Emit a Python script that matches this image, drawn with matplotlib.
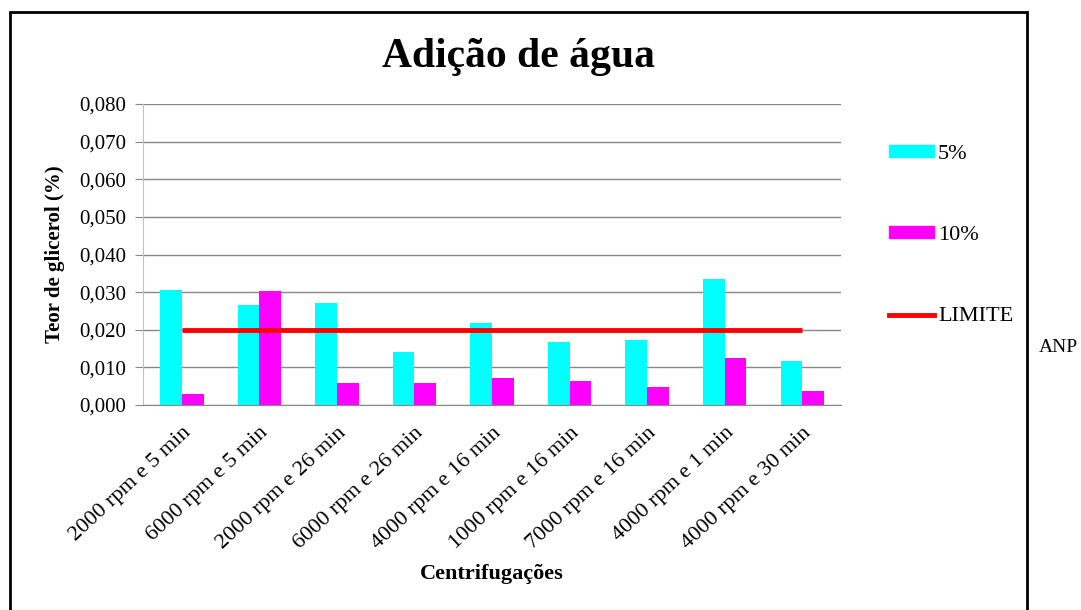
import numpy as np
import matplotlib.pyplot as plt
from matplotlib.patches import Rectangle, Patch
from matplotlib.lines import Line2D
from matplotlib.ticker import FuncFormatter

# Dados
categorias = ['2000 rpm e 5 min', '6000 rpm e 5 min', '2000 rpm e 26 min',
              '6000 rpm e 26 min', '4000 rpm e 16 min', '1000 rpm e 16 min',
              '7000 rpm e 16 min', '4000 rpm e 1 min', '4000 rpm e 30 min']
agua_5 = [0.0307, 0.0267, 0.0270, 0.0142, 0.0219, 0.0168, 0.0174, 0.0336, 0.0118]
agua_10 = [0.0030, 0.0304, 0.0059, 0.0059, 0.0073, 0.0064, 0.0049, 0.0126, 0.0037]
limite = [0.020] * len(categorias)

plt.rcParams['font.family'] = ['Liberation Serif', 'DejaVu Serif']

fig = plt.figure(figsize=(10.81, 6.10), dpi=100)
ax = fig.add_axes([0.1323, 0.336, 0.6457, 0.4935])

x = np.arange(len(categorias))
w = 0.28
ax.bar(x - w / 2, agua_5, w, color='#00FFFF', zorder=2)
ax.bar(x + w / 2, agua_10, w, color='#FF00FF', zorder=2)
ax.plot(x, limite, color='#FF0000', lw=3.5, zorder=3, solid_capstyle='butt')

ax.set_xlim(-0.5, len(categorias) - 0.5)
ax.set_ylim(0, 0.080)
ax.set_yticks(np.arange(0, 0.0801, 0.010))
ax.yaxis.set_major_formatter(FuncFormatter(lambda v, p: f'{v:.3f}'.replace('.', ',')))
ax.grid(axis='y', color='#888888', lw=1, zorder=0)
ax.set_axisbelow(True)

for s in ['top', 'right']:
    ax.spines[s].set_visible(False)
ax.spines['left'].set_color('#C0C0C0')
ax.spines['bottom'].set_color('#888888')
ax.tick_params(axis='y', length=6, color='#888888', labelsize=15, pad=6)
ax.tick_params(axis='x', length=0, labelsize=16, pad=13)
ax.set_xticks(x)
ax.set_xticklabels(categorias, rotation=43, ha='right', rotation_mode='anchor')

ax.set_ylabel('Teor de glicerol (%)', fontsize=15, fontweight='bold', labelpad=10)
ax.set_xlabel('Centrifugações', fontsize=16, fontweight='bold', labelpad=8)
fig.text(0.48, 0.906, 'Adição de água', fontsize=30, fontweight='bold',
         ha='center', va='center')

handles = [Patch(color='#00FFFF'), Patch(color='#FF00FF'),
           Line2D([], [], color='#FF0000', lw=3.5)]
fig.legend(handles, ['5%', '10%', 'LIMITE'], loc='upper left',
           bbox_to_anchor=(0.804, 0.795), frameon=False, fontsize=16,
           labelspacing=2.8, handlelength=2.0, handleheight=0.45, handletextpad=0.2)

fig.text(0.961, 0.43, 'ANP', fontsize=14, va='center')

# Moldura externa
fig.add_artist(Rectangle((0.0093, -0.05), 0.941, 1.03, transform=fig.transFigure,
                         fill=False, edgecolor='black', lw=2))

fig.savefig('out.png', dpi=100)
